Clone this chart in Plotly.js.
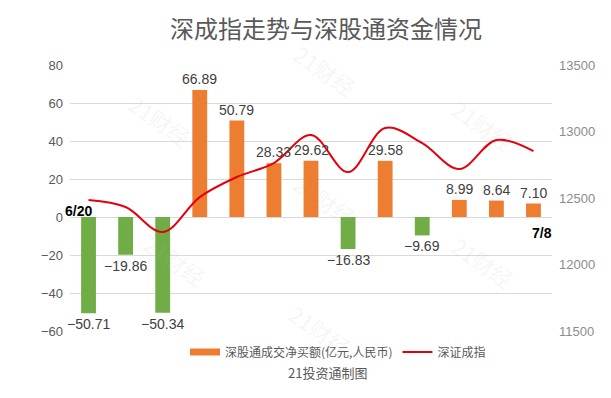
<!DOCTYPE html>
<html>
<head>
<meta charset="utf-8">
<script src="https://cdn.plot.ly/plotly-3.0.1.min.js"></script>
<style>html,body{margin:0;padding:0;background:#fff;}#chart{width:611px;height:398px;}</style>
</head>
<body>
<div id="chart"></div>
<script>
// Data
var dates = ['6/20','6/21','6/24','6/25','6/26','6/27','6/28','7/1','7/2','7/3','7/4','7/5','7/8'];
var netBuy = [-50.71, -19.86, -50.34, 66.89, 50.79, 28.33, 29.62, -16.83, 29.58, -9.69, 8.99, 8.64, 7.10];
var szIndex = [12485, 12432, 12244, 12507, 12658, 12763, 12974, 12695, 13026, 12913, 12718, 12936, 12853];
var leftTicks = [-60, -40, -20, 0, 20, 40, 60, 80];
var rightTicks = [11500, 12000, 12500, 13000, 13500];

var FONT = 'Liberation Sans, Arial, Noto Sans CJK SC, sans-serif';
var CJK = 'Noto Sans CJK SC, sans-serif';
var ORANGE = '#ED7D31', GREEN = '#70AD47', RED = '#E3000F';

function fmt(v){ return (v < 0 ? '\u2212' : '') + Math.abs(v).toFixed(2); }

var pos = netBuy.map(function(v){ return v >= 0 ? v : null; });
var neg = netBuy.map(function(v){ return v < 0 ? v : null; });

var traces = [
  {
    type: 'bar', x: dates, y: pos, name: 'pos', showlegend: false,
    marker: {color: ORANGE}, width: 0.4, hoverinfo: 'skip'
  },
  {
    type: 'bar', x: dates, y: neg, name: 'neg', showlegend: false,
    marker: {color: GREEN}, width: 0.4, hoverinfo: 'skip'
  },
  {
    // legend entry for the bars (wide rectangle swatch)
    type: 'scatter', mode: 'lines', x: [null], y: [null], name: '深股通成交净买额(亿元,人民币)',
    line: {color: ORANGE, width: 7}, hoverinfo: 'skip'
  },
  {
    type: 'scatter', mode: 'lines', x: dates, y: szIndex, yaxis: 'y2', name: '深证成指',
    line: {color: RED, width: 2, shape: 'spline', smoothing: 1}
  }
];

function px2x(p){ return (p - 70) / 482; }
function px2y(p){ return (331 - p) / 266; }

var annotations = [];
var wm = [[160,120],[175,260],[325,70],[325,200],[320,330],[483,125],[483,262]];
wm.forEach(function(p){
  annotations.push({xref:'paper', yref:'paper', x:px2x(p[0]), y:px2y(p[1]), xanchor:'center', yanchor:'middle',
    text:'21财经', showarrow:false, textangle:35,
    font:{family:CJK, size:22, color:'rgba(180,180,180,0.13)'}});
});
// value labels
netBuy.forEach(function(v, i){
  annotations.push({xref:'x', yref:'y', x:dates[i], y:v, yshift: v >= 0 ? 11 : -11,
    xanchor:'center', yanchor:'middle', text: fmt(v), showarrow:false,
    font:{family:FONT, size:14, color:'#404040'}});
});
annotations.push({xref:'x', yref:'y', x:dates[0], y:0, xshift:-10, yshift:-4, yanchor:'bottom',
  text:'<b>6/20</b>', showarrow:false, font:{family:FONT, size:14, color:'#000'}});
annotations.push({xref:'x', yref:'y', x:dates[dates.length-1], y:0, xshift:9, yshift:-16,
  text:'<b>7/8</b>', showarrow:false, font:{family:FONT, size:14, color:'#000'}});
annotations.push({xref:'paper', yref:'paper', x:px2x(327), y:px2y(372), xanchor:'center', yanchor:'middle',
  text:'21投资通制图', showarrow:false,
  font:{family:CJK, size:13, color:'#595959'}});

var layout = {
  width: 611, height: 398,
  margin: {l: 70, r: 59, t: 65, b: 67},
  paper_bgcolor: '#fff', plot_bgcolor: '#fff',
  title: {text: '深成指走势与深股通资金情况', x: 326/611, xref: 'container', xanchor: 'center',
    y: 1 - 30/398, yref: 'container', yanchor: 'middle',
    font: {family: CJK, size: 24, color: '#595959'}},
  barmode: 'overlay',
  showlegend: true,
  legend: {orientation: 'h', x: px2x(338), xanchor: 'center', y: px2y(352), yanchor: 'middle',
    font: {family: CJK, size: 12, color: '#595959'}, itemwidth: 30,
    traceorder: 'normal', bgcolor: 'rgba(0,0,0,0)'},
  xaxis: {type: 'category', showticklabels: false, showgrid: false, zeroline: false, showline: false,
    ticks: '', range: [-0.5, dates.length - 0.5], fixedrange: true},
  yaxis: {range: [-60, 80], tickvals: leftTicks, showgrid: true, gridcolor: '#D9D9D9', gridwidth: 1,
    zeroline: true, zerolinecolor: '#D9D9D9', zerolinewidth: 1, showline: false, ticks: '',
    tickfont: {family: FONT, size: 13, color: '#595959'}, ticklabelstandoff: 6},
  yaxis2: {range: [11500, 13500], tickvals: rightTicks, tickformat: 'd', overlaying: 'y', side: 'right', showgrid: false,
    zeroline: false, showline: false, ticks: '',
    tickfont: {family: FONT, size: 13, color: '#8C8C8C'}, ticklabelstandoff: 6},
  annotations: annotations
};

Plotly.newPlot('chart', traces, layout, {displayModeBar: false, staticPlot: true});
</script>
</body>
</html>
